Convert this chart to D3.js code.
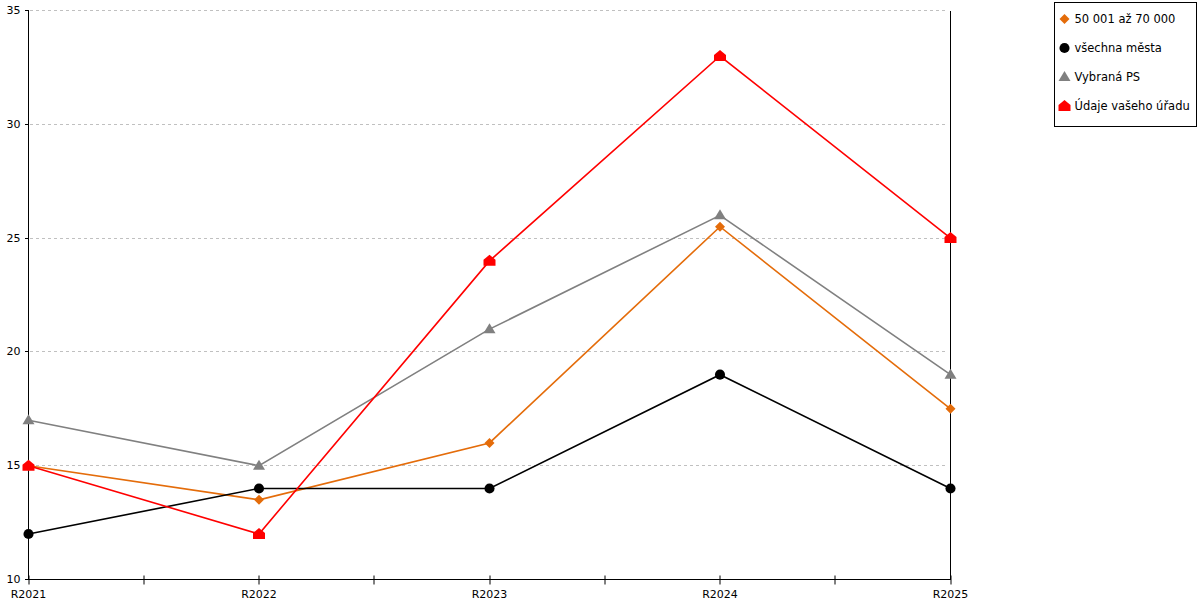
<!DOCTYPE html>
<html>
<head>
<meta charset="utf-8">
<script src="https://cdn.jsdelivr.net/npm/d3@7"></script>
<style>
  body { margin: 0; background: #fff; }
  svg { display: block; font-family: "DejaVu Sans", Verdana, sans-serif; }
</style>
</head>
<body>
<svg id="chart" width="1200" height="600"></svg>
<script>
// data
const categories = ['R2021', 'R2022', 'R2023', 'R2024', 'R2025'];
const yTicks = [10, 15, 20, 25, 30, 35];
const seriesNames = ['50 001 až 70 000', 'všechna města', 'Vybraná PS', 'Údaje vašeho úřadu'];
const valuesGroup = [15, 13.5, 16, 25.5, 17.5];
const valuesAll = [12, 14, 14, 19, 14];
const valuesPS = [17, 15, 21, 26, 19];
const valuesOffice = [15, 12, 24, 33, 25];

const series = [
  { name: seriesNames[0], values: valuesGroup, color: '#e46c0a', marker: 'diamond' },
  { name: seriesNames[1], values: valuesAll, color: '#000000', marker: 'circle' },
  { name: seriesNames[2], values: valuesPS, color: '#808080', marker: 'triangle' },
  { name: seriesNames[3], values: valuesOffice, color: '#ff0000', marker: 'house' },
];
// draw order: gray, orange, black, red on top
const drawOrder = [2, 0, 1, 3];

const margin = { top: 10.5, left: 28.5, right: 250, bottom: 21 };
const width = 922;
const height = 569;

const svg = d3.select('#chart');
const g = svg.append('g').attr('transform', `translate(${margin.left},${margin.top})`);

const x = d3.scalePoint().domain(categories).range([0, width]);
const y = d3.scaleLinear().domain([10, 35]).range([height, 0]);

function markerPath(type) {
  switch (type) {
    case 'diamond': return 'M0,-5L5,0L0,5L-5,0Z';
    case 'circle': return d3.symbol(d3.symbolCircle, 80)();
    case 'triangle': return 'M0,-6L6,4L-6,4Z';
    case 'house': return 'M0,-6L6,-1L6,5L-6,5L-6,-1Z';
  }
}

// grid
g.append('g')
  .selectAll('line')
  .data(yTicks.filter(t => t > 10))
  .join('line')
  .attr('x1', 1).attr('x2', width - 3)
  .attr('y1', d => y(d)).attr('y2', d => y(d))
  .attr('stroke', '#c0c0c0')
  .attr('stroke-dasharray', '3,3')
  .attr('shape-rendering', 'crispEdges');

// y axis
const yAxis = g.append('g')
  .call(d3.axisLeft(y).tickValues(yTicks).tickSize(4).tickSizeOuter(0).tickPadding(4).offset(0));
yAxis.selectAll('path, line').attr('stroke', '#000').attr('shape-rendering', 'crispEdges');
yAxis.selectAll('text').attr('font-size', 11).attr('font-family', '"DejaVu Sans", sans-serif').attr('fill', '#000');

// right border line
g.append('line')
  .attr('x1', width).attr('x2', width)
  .attr('y1', 0).attr('y2', height)
  .attr('stroke', '#000')
  .attr('shape-rendering', 'crispEdges');

// x axis with ticks crossing the axis line
const xAxisG = g.append('g').attr('transform', `translate(0,${height})`);
xAxisG.append('line')
  .attr('x1', 0).attr('x2', width)
  .attr('stroke', '#000')
  .attr('shape-rendering', 'crispEdges');
const step = x.step();
const tickPos = [];
categories.forEach((c, i) => {
  tickPos.push(x(c));
  if (i < categories.length - 1) tickPos.push(x(c) + step / 2);
});
xAxisG.selectAll('line.tick')
  .data(tickPos)
  .join('line')
  .attr('class', 'tick')
  .attr('x1', d => Math.round(d - 0.5) + 0.5).attr('x2', d => Math.round(d - 0.5) + 0.5)
  .attr('y1', -4).attr('y2', 5)
  .attr('stroke', '#000');
xAxisG.selectAll('text')
  .data(categories)
  .join('text')
  .attr('x', d => x(d))
  .attr('y', 18)
  .attr('text-anchor', 'middle')
  .attr('font-size', 11)
  .text(d => d);

// lines and points
const line = d3.line().x((d, i) => x(categories[i])).y(d => y(d));
drawOrder.forEach(k => {
  const s = series[k];
  g.append('path')
    .datum(s.values)
    .attr('fill', 'none')
    .attr('stroke', s.color)
    .attr('stroke-width', 1.6)
    .attr('d', line);
});
drawOrder.forEach(k => {
  const s = series[k];
  g.append('g')
    .selectAll('path')
    .data(s.values)
    .join('path')
    .attr('transform', (d, i) => `translate(${x(categories[i])},${y(d)})`)
    .attr('d', markerPath(s.marker))
    .attr('fill', s.color);
});

// legend
const legend = svg.append('g').attr('transform', 'translate(1054.5,2.5)');
legend.append('rect')
  .attr('width', 142).attr('height', 124)
  .attr('fill', '#fff').attr('stroke', '#000');
const items = legend.selectAll('g.item')
  .data(series)
  .join('g')
  .attr('class', 'item')
  .attr('transform', (d, i) => `translate(10,${16.5 + i * 29})`);
items.append('path')
  .attr('d', d => markerPath(d.marker))
  .attr('fill', d => d.color);
items.append('text')
  .attr('x', 10)
  .attr('y', 4)
  .attr('font-size', 11.5)
  .text(d => d.name);
</script>
</body>
</html>
